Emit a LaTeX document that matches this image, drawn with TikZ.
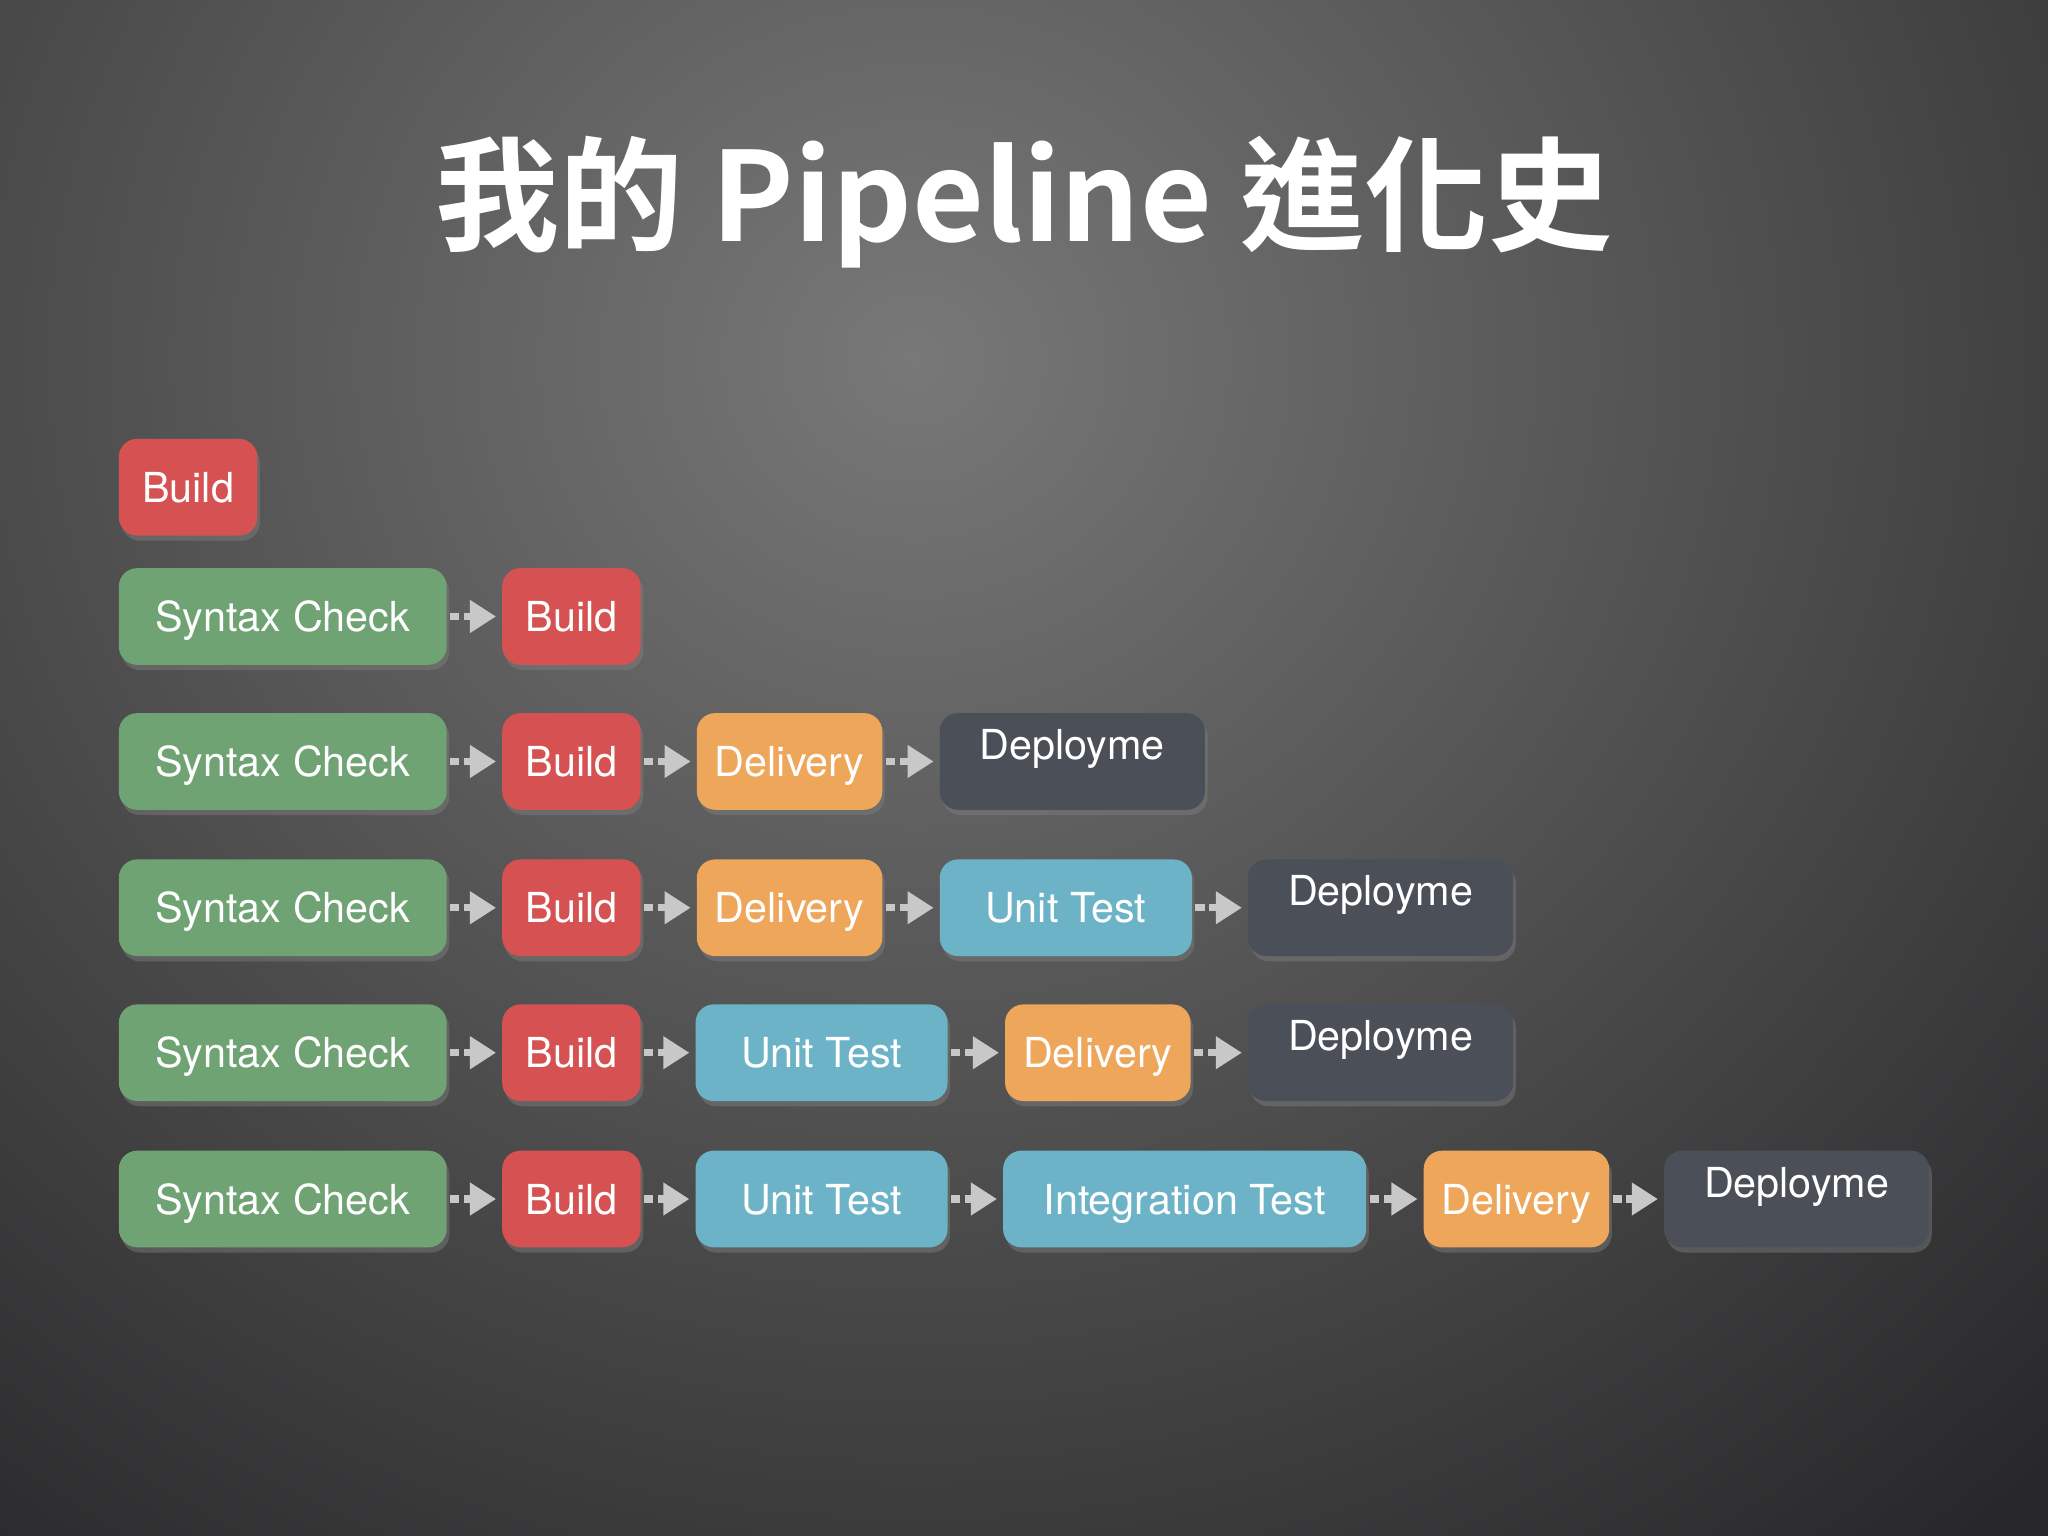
\documentclass[tikz,border=0pt]{standalone}
\usepackage{fontspec}
\setmainfont{TeX Gyre Heros}
\newfontfamily\cjk{Noto Sans CJK TC}[BoldFont={* Bold}]
\usetikzlibrary{shadows,arrows.meta}
\definecolor{cgreen}{HTML}{70A374}
\definecolor{cred}{HTML}{D65252}
\definecolor{corange}{HTML}{EEA65A}
\definecolor{cblue}{HTML}{6DB3C8}
\definecolor{cdark}{HTML}{4A4F58}
\definecolor{carrow}{HTML}{C8C8C8}
\tikzset{
 box/.style={rounded corners=0.14cm, minimum height=0.74cm, inner sep=0pt, text=white,
   text height=0.23cm, text depth=0cm,
   font=\fontsize{9pt}{10pt}\selectfont, drop shadow={opacity=0.45, shadow xshift=0.02cm, shadow yshift=-0.04cm}},
 sc/.style={box, fill=cgreen, minimum width=2.51cm},
 bd/.style={box, fill=cred, minimum width=1.06cm},
 dl/.style={box, fill=corange, minimum width=1.42cm},
 ut/.style={box, fill=cblue, minimum width=1.93cm},
 it/.style={box, fill=cblue, minimum width=2.78cm},
 dp/.style={box, fill=cdark, minimum width=2.03cm},
 arr/.style={draw=carrow, line width=1.6pt, dash pattern=on 2pt off 1pt, shorten >=0.04cm, shorten <=0.02cm,
   -{Triangle[length=0.2cm,width=0.24cm,fill=carrow]}},
}
\newcommand{\dep}{\raisebox{0.13cm}{Deployme}}
\begin{document}
\begin{tikzpicture}
\useasboundingbox (0,0) rectangle (15.68,-11.76);
\begin{scope}
\clip (0,0) rectangle (15.68,-11.76);
\shade[inner color={rgb,255:red,120;green,120;blue,120}, outer color={rgb,255:red,40;green,40;blue,42}]
  (-5.5,9.0) rectangle (19.5,-14.5);
\end{scope}
\node[text=white, font=\cjk\bfseries\fontsize{27pt}{30pt}\selectfont] (title) at (7.84,-1.55) {我的 Pipeline 進化史};

\node[bd] (b1) at (1.44,-3.73) {Build};

\node[sc] (s2) at (2.165,-4.72) {Syntax Check};
\node[bd] (b2) at (4.375,-4.72) {Build};
\draw[arr] (s2) -- (b2);

\node[sc] (s3) at (2.165,-5.83) {Syntax Check};
\node[bd] (b3) at (4.375,-5.83) {Build};
\node[dl] (d3) at (6.045,-5.83) {Delivery};
\node[dp] (p3) at (8.21,-5.83) {\dep};
\draw[arr] (s3) -- (b3); \draw[arr] (b3) -- (d3); \draw[arr] (d3) -- (p3);

\node[sc] (s4) at (2.165,-6.95) {Syntax Check};
\node[bd] (b4) at (4.375,-6.95) {Build};
\node[dl] (d4) at (6.045,-6.95) {Delivery};
\node[ut] (u4) at (8.16,-6.95) {Unit Test};
\node[dp] (p4) at (10.57,-6.95) {\dep};
\draw[arr] (s4) -- (b4); \draw[arr] (b4) -- (d4); \draw[arr] (d4) -- (u4); \draw[arr] (u4) -- (p4);

\node[sc] (s5) at (2.165,-8.06) {Syntax Check};
\node[bd] (b5) at (4.375,-8.06) {Build};
\node[ut] (u5) at (6.29,-8.06) {Unit Test};
\node[dl] (d5) at (8.405,-8.06) {Delivery};
\node[dp] (p5) at (10.57,-8.06) {\dep};
\draw[arr] (s5) -- (b5); \draw[arr] (b5) -- (u5); \draw[arr] (u5) -- (d5); \draw[arr] (d5) -- (p5);

\node[sc] (s6) at (2.165,-9.18) {Syntax Check};
\node[bd] (b6) at (4.375,-9.18) {Build};
\node[ut] (u6) at (6.29,-9.18) {Unit Test};
\node[it] (i6) at (9.07,-9.18) {Integration Test};
\node[dl] (d6) at (11.61,-9.18) {Delivery};
\node[dp] (p6) at (13.755,-9.18) {\dep};
\draw[arr] (s6) -- (b6); \draw[arr] (b6) -- (u6); \draw[arr] (u6) -- (i6); \draw[arr] (i6) -- (d6); \draw[arr] (d6) -- (p6);
\end{tikzpicture}
\end{document}
